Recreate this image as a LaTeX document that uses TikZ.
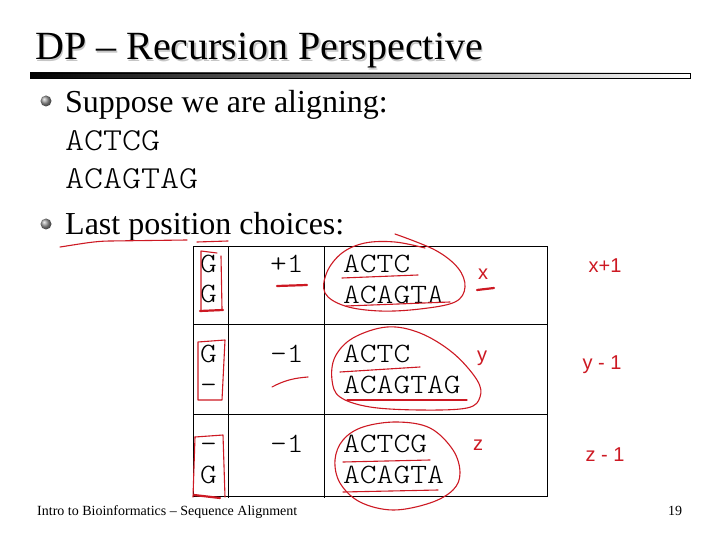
\documentclass[tikz,border=0pt]{standalone}
\usepackage{fontspec}
\setmainfont{Liberation Serif}
\newfontfamily\monofont{lmmonolt10-regular.otf}
\newfontfamily\handfont{Liberation Sans}
\usetikzlibrary{shadings}
\definecolor{pen}{RGB}{205,25,35}
\definecolor{bulletgray}{RGB}{150,150,150}
\begin{document}
\begin{tikzpicture}[x=1pt,y=-1pt,
  ink/.style={draw=pen, line width=1.1pt, line cap=round, line join=round},
  thickink/.style={draw=pen, line width=2.2pt, line cap=round},
  titletext/.style={anchor=base west, inner sep=0pt, font=\fontsize{40}{48}\selectfont},
  bodytext/.style={anchor=base west, inner sep=0pt, font=\fontsize{32}{38}\selectfont},
  codetext/.style={anchor=base west, inner sep=0pt, xscale=1.13, font=\monofont\fontsize{32}{36}\selectfont},
  celltext/.style={anchor=base west, inner sep=0pt, xscale=1.14, font=\monofont\fontsize{28}{32}\selectfont},
  handtext/.style={inner sep=0pt, text=pen, font=\handfont\fontsize{20}{20}\selectfont},
  foottext/.style={anchor=base west, inner sep=0pt, font=\fontsize{14}{16}\selectfont},
  bulletdot/.style={circle, inner sep=0pt, minimum size=11pt, ball color=bulletgray, draw=none},
  gridline/.style={draw=black, line width=0.9pt}
]
\useasboundingbox (0,0) rectangle (720,540);
\fill[white] (0,0) rectangle (720,540);

% title with soft shadow
\node[titletext, text=gray!45] (titleshadow) at (36.5,61.5) {DP – Recursion Perspective};
\node[titletext] (title) at (35,60) {DP – Recursion Perspective};
\shade[left color=black, right color=white] (30,73) rectangle (690,78);
\draw[line width=0.8pt] (30,73) rectangle (690,78);

% bullets
\node[bulletdot] (b1) at (46,101) {};
\node[bodytext] (t1) at (65,113) {Suppose we are aligning:};
\node[codetext] (s1) at (65,151) {ACTCG};
\node[codetext] (s2) at (65,189) {ACAGTAG};
\node[bulletdot] (b2) at (46,224) {};
\node[bodytext] (t2) at (65,235) {Last position choices:};

% table
\draw[gridline] (193,246) rectangle (547,496);
\draw[gridline] (228,246) -- (228,498);
\draw[gridline] (324,246) -- (324,498);
\draw[gridline] (193,324) -- (547,324);
\draw[gridline] (193,414) -- (547,414);

\node[celltext] (a1) at (200,272) {G};
\node[celltext] (a2) at (200,302) {G};
\node[celltext] (c1) at (270,272) {+1};
\node[celltext] (d1) at (343,272) {ACTC};
\node[celltext] (e1) at (343,303) {ACAGTA};

\node[celltext] (a3) at (200,362) {G};
\node[celltext] (a4) at (200,393) {-};
\node[celltext] (c2) at (270,362) {-1};
\node[celltext] (d2) at (343,362) {ACTC};
\node[celltext] (e2) at (343,393) {ACAGTAG};

\node[celltext] (a5) at (200,452) {-};
\node[celltext] (a6) at (200,483) {G};
\node[celltext] (c3) at (270,452) {-1};
\node[celltext] (d3) at (343,452) {ACTCG};
\node[celltext] (e3) at (343,483) {ACAGTA};

% footer
\node[foottext] (foot) at (37,515) {Intro to Bioinformatics – Sequence Alignment};
\node[foottext] (page) at (668,515) {19};

% ---- red handwritten annotations ----
% underline of "Last position"
\draw[ink] (60,247) .. controls (80,244) and (95,241) .. (110,241) -- (187,240);
\draw[ink] (197,242) -- (228,241);

% row 1
\draw[ink] (217,253) -- (201,251) -- (201,311);
\draw[ink] (221,256) -- (222,309);
\draw[thickink] (200,311) -- (223,310);
\draw[thickink] (277,286) -- (307,285);
\draw[ink] plot[smooth, tension=0.6] coordinates {(395,234) (435,250) (458,268) (465,287) (455,302) (420,309) (380,311) (345,306) (325,293) (327,272) (342,253) (365,243) (395,242) (425,248)};
\draw[ink] (342,278) -- (418,275);
\draw[ink] (346,306) -- (450,302);
\node[handtext] (hx) at (483,274) {x};
\draw[thickink] (477,290) -- (494,288);
\node[handtext] (hx1) at (605,266) {x+1};

% row 2
\draw[ink] (198,342) -- (225,340) -- (222,400) -- (198,400) -- cycle;
\draw[ink] (272,387) .. controls (285,380) and (295,378) .. (308,377);
\draw[ink] plot[smooth cycle, tension=0.6] coordinates {(353,338) (387,327) (420,333) (453,353) (477,380) (480,397) (467,408) (420,410) (370,407) (340,397) (332,380) (335,357)};
\draw[ink] (340,372) -- (420,367);
\draw[ink] (347,400) -- (467,400);
\node[handtext] (hy) at (482,358) {y};
\node[handtext] (hy1) at (602,365) {y - 1};

% row 3
\draw[ink] (195,437) -- (223,435) -- (225,497);
\draw[ink] (195,437) -- (193,497);
\draw[thickink] (194,495) -- (220,498);
\draw[ink] plot[smooth cycle, tension=0.6] coordinates {(397,422) (430,428) (453,450) (460,473) (453,490) (430,503) (393,510) (360,502) (340,483) (335,460) (343,440) (363,427)};
\draw[ink] (343,462) -- (430,460);
\draw[ink] (343,492) -- (438,490);
\node[handtext] (hz) at (478,445) {z};
\node[handtext] (hz1) at (605,455) {z - 1};
\end{tikzpicture}
\end{document}
